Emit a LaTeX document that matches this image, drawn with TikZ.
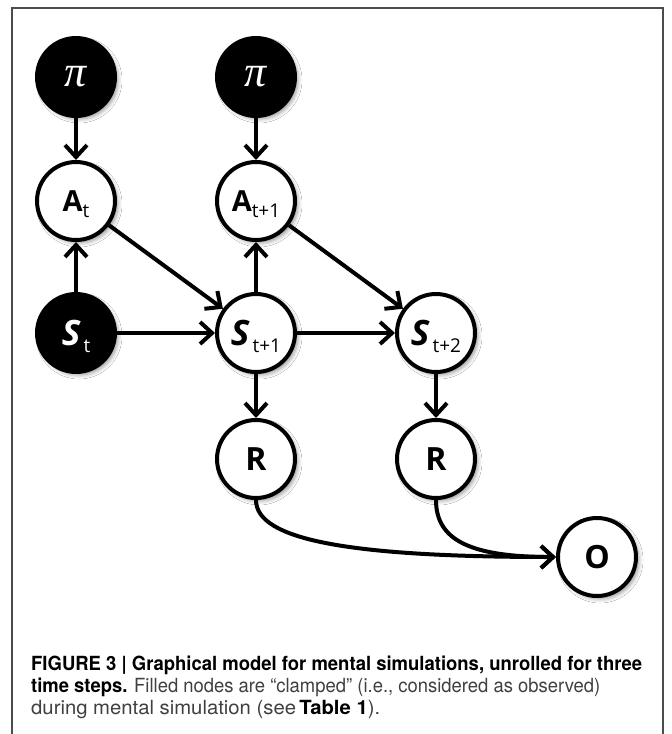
\documentclass[tikz,border=0pt]{standalone}
\usepackage{graphicx}
\usepackage{fontspec}
\setmainfont{TeX Gyre Heros}
\newfontfamily\nodefont{Open Sans}
\newfontfamily\pifont{Liberation Serif}
\usetikzlibrary{arrows.meta,shadows.blur}

\tikzset{
  var/.style={circle, draw=black, line width=4pt, minimum size=78pt, inner sep=0pt, fill=white,
    blur shadow={shadow xshift=3pt, shadow yshift=-3pt, shadow blur radius=4pt, shadow opacity=40}},
  obs/.style={var, fill=black, text=white},
  edge/.style={line width=4pt, -{Straight Barb[length=12pt,width=22pt]}},
  captext/.style={anchor=base west, inner sep=0pt, font=\fontsize{19.5}{22}\selectfont}
}
\newcommand{\varA}[1]{{\nodefont\fontsize{29}{29}\selectfont\bfseries A}\smash{\raisebox{-6pt}{\nodefont\fontsize{19}{19}\selectfont #1}}}
\newcommand{\varS}[1]{{\nodefont\fontsize{35}{35}\selectfont\bfseries\itshape S}\smash{\raisebox{-7pt}{\nodefont\fontsize{19}{19}\selectfont\,#1}}}
\newcommand{\varB}[1]{{\nodefont\fontsize{32}{32}\selectfont\bfseries #1}}
\newcommand{\varPi}{{\pifont\itshape\fontsize{44}{44}\selectfont π}}
\newcommand{\light}[1]{\textcolor{black!75}{#1}}
\newcommand{\capline}[2]{\resizebox{#1}{\height}{#2}}

\begin{document}
\begin{tikzpicture}[x=1pt,y=1pt,yscale=-1]
  \useasboundingbox (0,0) rectangle (672,734);
  \fill[white] (0,0) rectangle (672,734);
  %Frame
  \draw[line width=1.5pt, black!70] (12,734) -- (12,8) -- (663,8) -- (663,734);

  %Shape: Circle (policy)
  \node[obs] (pi1) at (76,77) {\varPi};
  \node[obs] (pi2) at (256,77) {\varPi};
  %Shape: Circle (actions)
  \node[var] (at) at (76,201) {\varA{t}};
  \node[var] (at1) at (256,201) {\varA{t+1}};
  %Shape: Circle (states)
  \node[obs] (st) at (76,333) {\varS{t}};
  \node[var] (st1) at (256,333) {\varS{t+1}};
  \node[var] (st2) at (436,333) {\varS{t+2}};
  %Shape: Circle (rewards, outcome)
  \node[var] (r1) at (256,459) {\varB{R}};
  \node[var] (r2) at (436,459) {\varB{R}};
  \node[var] (o) at (597,557) {\varB{O}};

  %Straight Lines
  \draw[edge] (pi1) -- (at);
  \draw[edge] (pi2) -- (at1);
  \draw[edge] (st) -- (at);
  \draw[edge] (st1) -- (at1);
  \draw[edge] (at) -- (st1);
  \draw[edge] (at1) -- (st2);
  \draw[edge] (st) -- (st1);
  \draw[edge] (st1) -- (st2);
  \draw[edge] (st1) -- (r1);
  \draw[edge] (st2) -- (r2);
  %Curves
  \draw[edge] (r1.south) .. controls +(0,40) and (350,557) .. (o.west);
  \draw[edge] (r2.south) .. controls +(0,40) and (470,557) .. (o.west);

  % Text Node
  \node[captext] (cap1) at (31,670) {\capline{611pt}{\textbf{FIGURE 3 | Graphical model for mental simulations, unrolled for three}}};
  \node[captext] (cap2) at (31,692) {\capline{569pt}{\textbf{time steps.} \light{Filled nodes are “clamped” (i.e., considered as observed)}}};
  \node[captext] (cap3) at (31,714) {\capline{349pt}{\light{during mental simulation (see}\,\textbf{Table 1}\light{).}}};
\end{tikzpicture}
\end{document}
